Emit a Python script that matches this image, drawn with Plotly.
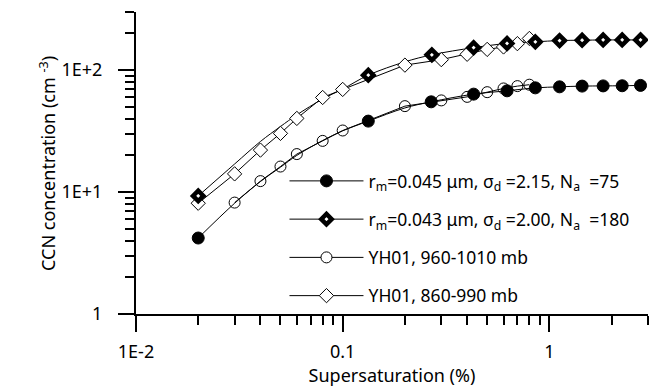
import plotly.graph_objects as go

# ---- data ----
# model curve 1 (r_m=0.045, sigma=2.15, Na=75): line points and marker points
m1_line_x = [0.02, 0.03, 0.04, 0.05, 0.06, 0.08, 0.1, 0.133, 0.2, 0.268, 0.43, 0.624, 0.855, 1.12, 1.44, 1.82, 2.25, 2.76]
m1_line_y = [4.2, 8.1, 12.2, 16.0, 20.0, 26.5, 31.8, 38.2, 49.0, 55.0, 63.6, 67.7, 71.6, 73.0, 74.0, 74.3, 74.5, 75.0]
m1_mark_x = [0.02, 0.133, 0.268, 0.43, 0.624, 0.855, 1.12, 1.44, 1.82, 2.25, 2.76]
m1_mark_y = [4.2, 38.2, 55.0, 63.6, 67.7, 71.6, 73.0, 74.0, 74.3, 74.5, 75.0]

# model curve 2 (r_m=0.043, sigma=2.00, Na=180)
m2_line_x = [0.02, 0.03, 0.04, 0.05, 0.06, 0.08, 0.1, 0.133, 0.2, 0.27, 0.43, 0.624, 0.855, 1.12, 1.44, 1.82, 2.25, 2.76]
m2_line_y = [9.3, 17.0, 26.0, 34.5, 43.0, 58.0, 70.0, 91.0, 117.0, 133.6, 153.0, 165.6, 170.7, 175.0, 176.0, 177.0, 177.0, 177.0]
m2_mark_x = [0.02, 0.133, 0.27, 0.43, 0.624, 0.855, 1.12, 1.44, 1.82, 2.25, 2.76]
m2_mark_y = [9.3, 91.0, 133.6, 153.0, 165.6, 170.7, 175.0, 176.0, 177.0, 177.0, 177.0]

# YH01 observations
obs1_x = [0.03, 0.04, 0.05, 0.06, 0.08, 0.1, 0.2, 0.3, 0.4, 0.5, 0.6, 0.7, 0.8]
obs1_y = [8.2, 12.3, 16.2, 20.5, 26.3, 32.0, 50.7, 56.5, 60.4, 66.0, 70.8, 74.0, 76.0]
obs2_x = [0.02, 0.03, 0.04, 0.05, 0.06, 0.08, 0.1, 0.2, 0.3, 0.4, 0.5, 0.6, 0.7, 0.8]
obs2_y = [8.1, 14.1, 22.1, 30.3, 40.2, 59.7, 69.5, 110.0, 122.0, 135.0, 148.0, 155.0, 165.0, 182.0]

names = [
    "r<sub>m</sub>=0.045 μm, σ<sub>d</sub> =2.15, N<sub>a</sub>  =75",
    "r<sub>m</sub>=0.043 μm, σ<sub>d</sub> =2.00, N<sub>a</sub>  =180",
    "YH01, 960-1010 mb",
    "YH01, 860-990 mb",
]
x_title = "Supersaturation (%)"
y_title = "CCN concentration (cm <sup>-3</sup>)"

x_tickvals = [0.01, 0.1, 1]
x_ticktext = ["1E-2", "0.1", "1"]
y_tickvals = [1, 10, 100]
y_ticktext = ["1", "1E+1", "1E+2"]
x_minor = [0.02, 0.03, 0.04, 0.05, 0.06, 0.07, 0.08, 0.09,
           0.2, 0.3, 0.4, 0.5, 0.6, 0.7, 0.8, 0.9, 2, 3]
y_minor = [2, 3, 4, 5, 6, 7, 8, 9, 20, 30, 40, 50, 60, 70, 80, 90, 200, 300]

FONT = "Noto Sans"
BLK = "black"
FS = 18
LFS = 17.5

fig = go.Figure()

# model lines (smooth)
for lx, ly in [(m1_line_x, m1_line_y), (m2_line_x, m2_line_y)]:
    fig.add_trace(go.Scatter(x=lx, y=ly, mode="lines", line=dict(color=BLK, width=1, shape="spline"),
                             showlegend=False, hoverinfo="skip"))

# observations
fig.add_trace(go.Scatter(x=obs1_x, y=obs1_y, mode="lines+markers", line=dict(color=BLK, width=1),
                         marker=dict(symbol="circle", size=11, color="rgba(255,255,255,0)",
                                     line=dict(color=BLK, width=1)),
                         showlegend=False))
fig.add_trace(go.Scatter(x=obs2_x, y=obs2_y, mode="lines+markers", line=dict(color=BLK, width=1),
                         marker=dict(symbol="diamond", size=11, color="white",
                                     line=dict(color=BLK, width=1)),
                         showlegend=False))

# model markers
fig.add_trace(go.Scatter(x=m1_mark_x, y=m1_mark_y, mode="markers",
                         marker=dict(symbol="circle", size=12, color=BLK, line=dict(color=BLK, width=1)),
                         showlegend=False))
fig.add_trace(go.Scatter(x=m2_mark_x, y=m2_mark_y, mode="markers",
                         marker=dict(symbol="diamond", size=8, color="white", line=dict(color=BLK, width=4.5)),
                         showlegend=False))

# legend entries
leg_markers = [
    dict(symbol="circle", size=12, color=BLK, line=dict(color=BLK, width=1)),
    dict(symbol="diamond", size=8, color="white", line=dict(color=BLK, width=4.5)),
    dict(symbol="circle", size=11, color="white", line=dict(color=BLK, width=1)),
    dict(symbol="diamond", size=11, color="white", line=dict(color=BLK, width=1)),
]
for i, (nm, mk) in enumerate(zip(names, leg_markers)):
    fig.add_trace(go.Scatter(x=[None], y=[None], mode="lines+markers", name=nm,
                             line=dict(color=BLK, width=1), marker=mk, legendgroup=f"g{i}"))

fig.update_layout(
    width=665, height=388,
    margin=dict(l=136, r=17, t=12, b=74),
    paper_bgcolor="white", plot_bgcolor="white",
    font=dict(family=FONT, size=FS, color=BLK),
    showlegend=True,
    legend=dict(x=0.29, y=0.50, xanchor="left", yanchor="top", bgcolor="rgba(0,0,0,0)",
                font=dict(family=FONT, size=LFS, color=BLK), itemwidth=74, tracegroupgap=12.5),
    annotations=[dict(text=y_title, textangle=-90, xref="paper", yref="paper",
                      x=-0.172, y=0.5, xanchor="center", yanchor="middle", showarrow=False,
                      font=dict(family=FONT, size=FS, color=BLK))],
)

fig.update_xaxes(
    type="log", range=[-2, 0.4771], automargin=False,
    tickmode="array", tickvals=x_tickvals, ticktext=x_ticktext,
    ticks="outside", ticklen=16, tickwidth=1.5, tickcolor=BLK,
    showline=True, linecolor=BLK, linewidth=2, mirror=False,
    showgrid=False, zeroline=False,
    minor=dict(tickvals=x_minor, ticks="outside", ticklen=9, tickwidth=1.5, tickcolor=BLK, showgrid=False),
    title=dict(text=x_title, font=dict(family=FONT, size=FS, color=BLK), standoff=6),
    tickfont=dict(family=FONT, size=FS, color=BLK),
    ticklabelstandoff=4,
)
fig.update_yaxes(
    type="log", range=[0, 2.4771], automargin=False,
    tickmode="array", tickvals=y_tickvals, ticktext=y_ticktext,
    ticks="outside", ticklen=16, tickwidth=1.5, tickcolor=BLK,
    showline=True, linecolor=BLK, linewidth=2, mirror=False,
    showgrid=False, zeroline=False,
    minor=dict(tickvals=y_minor, ticks="outside", ticklen=9, tickwidth=1.5, tickcolor=BLK, showgrid=False),
    tickfont=dict(family=FONT, size=FS, color=BLK),
    ticklabelstandoff=12,
)

fig.write_html("out.html")
